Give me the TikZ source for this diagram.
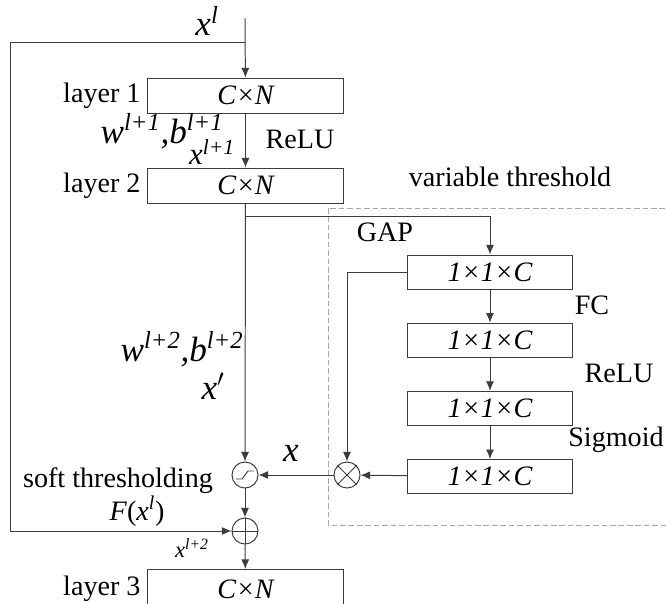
\documentclass[tikz,border=0pt]{standalone}
\usepackage{fontspec}
\setmainfont{Liberation Serif}
\usepackage{tikz}
\usetikzlibrary{arrows.meta, positioning, calc}
\definecolor{mygray}{RGB}{60,60,60}
\definecolor{mydash}{RGB}{165,165,165}
\newcommand{\txtfont}{\fontsize{20}{24}\selectfont}
\newcommand{\varfont}{\fontsize{25}{28}\selectfont\itshape}
\tikzset{
  layerbox/.style={rectangle, draw=mygray, minimum width=4.875cm,
    minimum height=0.875cm, inner sep=0pt, font=\txtfont\itshape, line width=0.7pt},
  chanbox/.style={rectangle, draw=mygray, minimum width=4.1cm,
    minimum height=0.85cm, inner sep=0pt, font=\txtfont\itshape, line width=0.7pt},
  opnode/.style={circle, draw=mygray, minimum size=0.65cm, inner sep=0pt, line width=0.7pt},
  txt/.style={font=\txtfont},
  var/.style={font=\varfont},
  arrow/.style={-{Latex[length=2.4mm, width=2mm]}, line width=0.7pt, color=mygray},
  line/.style={line width=0.7pt, color=mygray}
}

\begin{document}
\begin{tikzpicture}[x=0.025cm, y=-0.025cm]
  \clip (0,0) rectangle (666,604);
  % main path
  \node[layerbox] (layer1) at (245.5,95.5) {C×N};
  \node[layerbox, below=1.35cm of layer1] (layer2) {C×N};
  \node[layerbox, anchor=north, minimum height=1cm] (layer3) at (245.5,569) {C×N};
  \node[txt, left=0.05cm of layer1] (lab1) {layer 1};
  \node[txt, left=0.05cm of layer2] (lab2) {layer 2};
  \node[txt, left=0.05cm of layer3.north west, anchor=north east, yshift=-0.05cm] (lab3) {layer 3};

  \node[opnode] (soft) at (245,475) {};
  \node[opnode] (sum) at (245,531) {};
  \node[opnode] (mult) at (347,475) {};
  \draw[line] ($(soft)+(-9,4)$) -- ++(6,0) -- ++(6,-8) -- ++(6,0);
  \draw[line] (sum.north) -- (sum.south) (sum.west) -- (sum.east);
  \draw[line] (mult.north west) -- (mult.south east) (mult.north east) -- (mult.south west);

  % variable threshold branch
  \draw[dashed, dash pattern=on 4pt off 2pt, mydash, line width=0.5pt] (328,208) rectangle (690,525);
  \node[chanbox] (fc1) at (490,272) {1×1×C};
  \node[chanbox, below=0.83cm of fc1] (fc2) {1×1×C};
  \node[chanbox, below=0.83cm of fc2] (fc3) {1×1×C};
  \node[chanbox, below=0.83cm of fc3] (fc4) {1×1×C};

  \coordinate (top) at (245,18);
  \coordinate (split) at (245,42);
  \coordinate (fbcorner) at (10,42);
  \coordinate (gapsplit) at (245,216);

  \draw[arrow] (top) -- (layer1);
  \draw[line] (split) -- (fbcorner);
  \draw[arrow] (fbcorner) |- (sum);
  \draw[arrow] (layer1) -- (layer2);
  \draw[arrow] (layer2) -- (soft);
  \draw[arrow] (gapsplit) -| (fc1);
  \draw[arrow] (fc1) -- (fc2);
  \draw[arrow] (fc2) -- (fc3);
  \draw[arrow] (fc3) -- (fc4);
  \draw[arrow] (fc1.west) -| (mult);
  \draw[arrow] (fc4) -- (mult);
  \draw[arrow] (mult) -- (soft);
  \draw[arrow] (soft) -- (sum);
  \draw[arrow] (sum) -- (layer3);

  % labels
  \node[var] (xl) at (207,21) {x\textsuperscript{l}};
  \node[var] (wb1) at (162,131) {w\textsuperscript{l+1},b\textsuperscript{l+1}};
  \node[var, font=\fontsize{22}{26}\selectfont\itshape] (xl1) at (212,152) {x\textsuperscript{l+1}};
  \node[txt] (relu1) at (300,139) {ReLU};
  \node[txt] (varth) at (510,177) {variable threshold};
  \node[txt] (gap) at (385,232) {GAP};
  \node[txt] (fc) at (592,305) {FC};
  \node[txt] (relu2) at (619,373) {ReLU};
  \node[txt] (sigm) at (616,440) {Sigmoid};
  \node[var] (wb2) at (182,349) {w\textsuperscript{l+2},b\textsuperscript{l+2}};
  \node[var] (xp) at (213,386) {x$'$};
  \node[var] (xx) at (291,453) {x};
  \node[txt] (softlab) at (118,481) {soft thresholding};
  \node[txt] (fx) at (137,511) {\textit{F}(\textit{x}\textsuperscript{\textit{l}})};
  \node[font=\fontsize{16}{18}\selectfont\itshape] (xl2) at (192,548) {x\textsuperscript{l+2}};
\end{tikzpicture}
\end{document}
